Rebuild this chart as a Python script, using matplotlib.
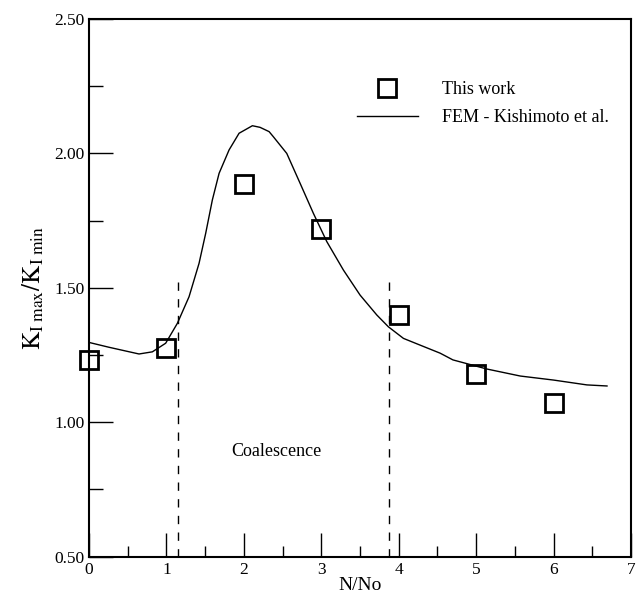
import matplotlib
matplotlib.use('Agg')
import matplotlib.pyplot as plt

plt.rcParams['font.family'] = ['Liberation Serif', 'DejaVu Serif']
plt.rcParams['mathtext.fontset'] = 'stix'

# measured points (this work)
work_x = [0, 1, 2, 3, 4, 5, 6]
work_y = [1.232, 1.275, 1.886, 1.719, 1.399, 1.180, 1.071]

# FEM curve, Kishimoto et al.
fem_x = [0.0, 0.258, 0.646, 0.818, 0.99, 1.141, 1.292, 1.421, 1.507, 1.593, 1.68,
         1.809, 1.938, 2.11, 2.209, 2.326, 2.381, 2.554, 2.726, 2.898, 3.071, 3.286,
         3.501, 3.717, 3.867, 4.061, 4.276, 4.535, 4.70, 5.14, 5.57, 6.0, 6.43, 6.69]
fem_y = [1.297, 1.279, 1.254, 1.262, 1.294, 1.368, 1.467, 1.591, 1.703, 1.827, 1.926,
         2.013, 2.075, 2.103, 2.097, 2.081, 2.062, 2.000, 1.889, 1.777, 1.672, 1.566,
         1.473, 1.399, 1.355, 1.312, 1.287, 1.257, 1.232, 1.198, 1.172, 1.157, 1.139, 1.135]

# coalescence window bounds
coal_x = [1.154, 3.876]
coal_top = 1.527

fig = plt.figure(figsize=(6.39, 6.01), dpi=100)
ax = fig.add_axes([0.1393, 0.0737, 0.8482, 0.8947])

ax.plot(fem_x, fem_y, color='black', lw=1.0, label='FEM - Kishimoto et al.')
ax.plot(work_x, work_y, ls='none', marker='s', ms=13, mfc='none', mec='black',
        mew=2.0, label='This work', clip_on=False, zorder=3)
for xc in coal_x:
    ax.plot([xc, xc], [0.5, coal_top], color='black', lw=1.0, ls=(0, (6, 6)))

ax.text(2.425, 0.891, 'Coalescence', ha='center', va='center', fontsize=13)

ax.set_xlim(0, 7)
ax.set_ylim(0.5, 2.5)
ax.set_xticks(range(0, 8))
ax.set_xticks([0.5, 1.5, 2.5, 3.5, 4.5, 5.5, 6.5], minor=True)
ax.set_yticks([0.5, 1.0, 1.5, 2.0, 2.5])
ax.set_yticklabels(['0.50', '1.00', '1.50', '2.00', '2.50'])
ax.set_yticks([0.75, 1.25, 1.75, 2.25], minor=True)
ax.tick_params(which='both', direction='in', labelsize=12.5, width=1.0)
ax.tick_params(axis='x', which='major', length=17, pad=4)
ax.tick_params(axis='x', which='minor', length=8)
ax.tick_params(axis='y', which='major', length=17, pad=3)
ax.tick_params(axis='y', which='minor', length=10)
for s in ax.spines.values():
    s.set_linewidth(1.5)

ax.set_xlabel('N/No', fontsize=14, labelpad=-1)
ax.set_ylabel(r'$\mathrm{K_{I\ max}/K_{I\ min}}$', fontsize=18, labelpad=6)

h, l = ax.get_legend_handles_labels()
ax.legend(h[::-1], l[::-1], loc='upper left', bbox_to_anchor=(0.494, 0.884),
          frameon=False, fontsize=13, numpoints=1, handlelength=3.4,
          handletextpad=1.3, labelspacing=0.6, borderpad=0, borderaxespad=0)

fig.savefig('out.png', dpi=100)
